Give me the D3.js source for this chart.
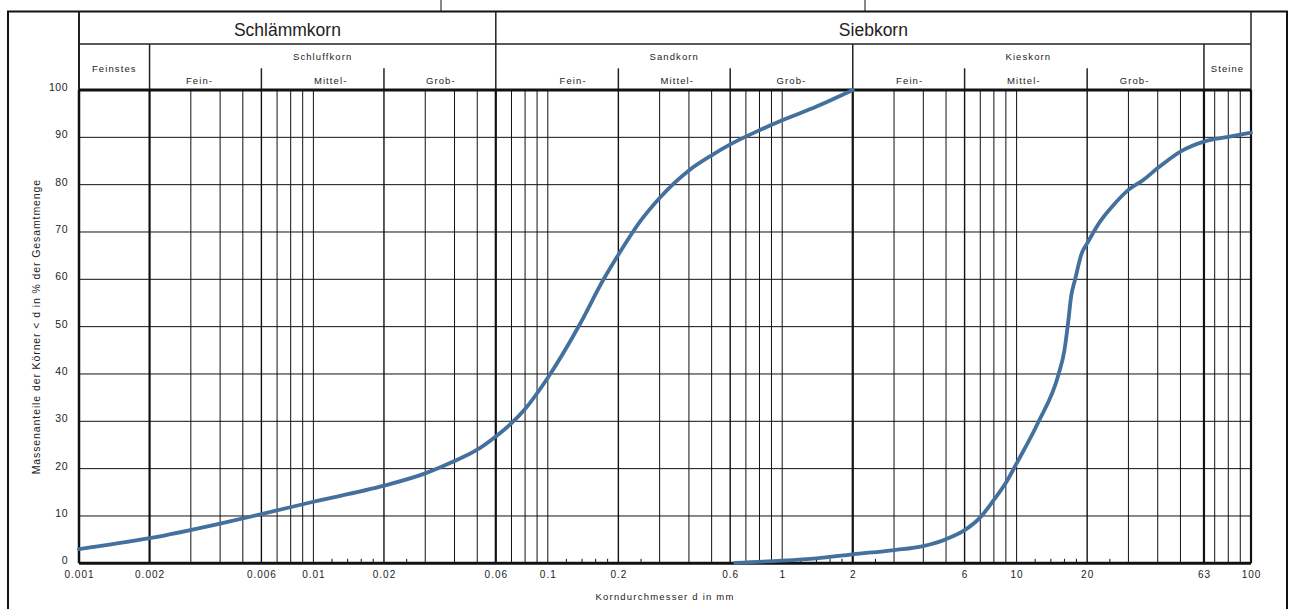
<!DOCTYPE html>
<html>
<head>
<meta charset="utf-8">
<script src="https://cdn.jsdelivr.net/npm/d3@7"></script>
<style>
  body { margin: 0; background: #fff; }
  svg { display: block; }
  text { font-family: "Liberation Sans", Arial, sans-serif; fill: #222; }
</style>
</head>
<body>
<svg id="chart" width="1293" height="609"></svg>
<script>
// Körnungslinien: two grain size distribution curves (mass passing in % vs. grain diameter in mm)
const fineD   = [0.001, 0.002, 0.004, 0.006, 0.01, 0.02, 0.03, 0.04, 0.05, 0.06, 0.07, 0.08, 0.1,  0.137, 0.1725, 0.2,  0.25, 0.3,  0.4,  0.5,  0.6,  0.8,  1.0,  1.4,  2.0];
const finePct = [3.0,   5.3,   8.4,   10.4,  13.0, 16.4, 19.0, 21.6, 24.0, 26.8, 29.6, 32.6, 39.2, 50.5,  59.9,   65.2, 72.5, 77.2, 83.0, 86.2, 88.5, 91.5, 93.6, 96.5, 100];

const coarseD   = [0.63, 1.0,  1.4,  2.0, 3.0, 4.0,  5.0, 6.0, 7.0, 8.0,  9.0,  10,   12.4, 15.07, 16.0, 16.6, 17.1, 17.75, 18.96, 20,   22.7, 25.9, 30,   34.7, 40,   50,   63,   80,   100];
const coarsePct = [0.1,  0.55, 1.05, 1.9, 2.8, 3.65, 5.1, 7.0, 9.7, 13.4, 17.0, 21.1, 29.9, 39.8,  45.0, 51.0, 56.5, 59.9,  65.5,  67.6, 72.2, 75.7, 78.9, 81.0, 83.5, 87.0, 89.1, 90.1, 91.0];

// Axis ticks
const yTicks = [0, 10, 20, 30, 40, 50, 60, 70, 80, 90, 100];
const xLabelValues = [0.001, 0.002, 0.006, 0.01, 0.02, 0.06, 0.1, 0.2, 0.6, 1, 2, 6, 10, 20, 63, 100];
const xLabelTexts  = ["0.001", "0.002", "0.006", "0.01", "0.02", "0.06", "0.1", "0.2", "0.6", "1", "2", "6", "10", "20", "63", "100"];

// Grid in the log scale
const minorLines = [0.003, 0.004, 0.005, 0.007, 0.008, 0.009, 0.01,
                    0.03, 0.04, 0.05, 0.07, 0.08, 0.09, 0.1,
                    0.3, 0.4, 0.5, 0.7, 0.8, 0.9, 1,
                    3, 4, 5, 7, 8, 9, 10,
                    30, 40, 50, 70, 80, 90];
const shortTicks = [0.012, 0.014, 0.016, 0.018, 0.025,
                    0.12, 0.14, 0.16, 0.18, 0.25,
                    1.2, 1.4, 1.6, 1.8, 2.5,
                    12, 14, 16, 18, 25];
const mainBounds = [0.002, 0.06, 2, 63];
const subBounds  = [0.006, 0.02, 0.2, 0.6, 6, 20];

// Header classification (DIN 4022)
const groupNames = ["Schlämmkorn", "Siebkorn"];
const groupFrom  = [0.001, 0.06];
const groupTo    = [0.06, 100];

const fractionNames = ["Schluffkorn", "Sandkorn", "Kieskorn"];
const fractionFrom  = [0.002, 0.06, 2];
const fractionTo    = [0.06, 2, 63];

const sideCellNames = ["Feinstes", "Steine"];
const sideCellFrom  = [0.001, 63];
const sideCellTo    = [0.002, 100];

const subNames = ["Fein-", "Mittel-", "Grob-", "Fein-", "Mittel-", "Grob-", "Fein-", "Mittel-", "Grob-"];
const subFrom  = [0.002, 0.006, 0.02, 0.06, 0.2, 0.6, 2, 6, 20];
const subTo    = [0.006, 0.02, 0.06, 0.2, 0.6, 2, 6, 20, 63];
// horizontal nudges of the sub-fraction captions (px)
const subShift = [-6, 8, 1, 16, 3, 0, 1, -2, -11];

const svg = d3.select("#chart");

const plotL = 79, plotR = 1251, plotT = 90, plotB = 563.3;
const x = d3.scaleLog().domain([0.001, 100]).range([plotL, plotR]);
const y = d3.scaleLinear().domain([0, 100]).range([plotB, plotT]);

// page frame
const frame = svg.append("g").attr("fill", "none").attr("stroke", "#111");
frame.append("path").attr("d", "M8,620 L8,11.5 L1287,11.5 L1287,620").attr("stroke-width", 2);
frame.append("line").attr("x1", 441).attr("x2", 441).attr("y1", 0).attr("y2", 11).attr("stroke-width", 1);
frame.append("line").attr("x1", 865).attr("x2", 865).attr("y1", 0).attr("y2", 11).attr("stroke-width", 1);

// header table
const hdr = svg.append("g").attr("stroke", "#222").attr("fill", "none");
const hTop = 12, hMid = 44, hSub = 68.3;
hdr.append("line").attr("x1", plotL).attr("x2", plotR).attr("y1", hMid).attr("y2", hMid).attr("stroke-width", 1.5);
hdr.append("line").attr("x1", plotL).attr("x2", plotL).attr("y1", hTop).attr("y2", plotT).attr("stroke-width", 2);
hdr.append("line").attr("x1", plotR).attr("x2", plotR).attr("y1", hTop).attr("y2", plotT).attr("stroke-width", 1.5);
hdr.append("line").attr("x1", x(0.06)).attr("x2", x(0.06)).attr("y1", hTop).attr("y2", plotT).attr("stroke-width", 1.5);
hdr.selectAll("line.mb").data(mainBounds.filter(d => d !== 0.06)).join("line")
  .attr("x1", d => x(d)).attr("x2", d => x(d)).attr("y1", hMid).attr("y2", plotT).attr("stroke-width", 1.5);
hdr.selectAll("line.sb").data(subBounds).join("line")
  .attr("x1", d => x(d)).attr("x2", d => x(d)).attr("y1", hSub).attr("y2", plotT).attr("stroke-width", 1.5);

function styleSmall(sel) {
  sel.attr("font-size", "9.5px").attr("letter-spacing", "1.1px").attr("text-anchor", "middle");
}

svg.selectAll("text.group").data(groupNames).join("text")
  .attr("x", (d, i) => (x(groupFrom[i]) + x(groupTo[i])) / 2)
  .attr("y", 36)
  .attr("text-anchor", "middle").attr("font-size", "17.5px")
  .text(d => d);

svg.selectAll("text.fraction").data(fractionNames).join("text")
  .attr("x", (d, i) => (x(fractionFrom[i]) + x(fractionTo[i])) / 2)
  .attr("y", 60)
  .call(styleSmall)
  .text(d => d);

svg.selectAll("text.side").data(sideCellNames).join("text")
  .attr("x", (d, i) => (x(sideCellFrom[i]) + x(sideCellTo[i])) / 2)
  .attr("y", 72)
  .call(styleSmall)
  .text(d => d);

svg.selectAll("text.sub").data(subNames).join("text")
  .attr("x", (d, i) => (x(subFrom[i]) + x(subTo[i])) / 2 + subShift[i])
  .attr("y", 84)
  .call(styleSmall)
  .text(d => d);

// plot grid
const grid = svg.append("g").attr("stroke", "#111").attr("fill", "none");
grid.selectAll("line.h").data(yTicks.filter(d => d > 0 && d < 100)).join("line")
  .attr("x1", plotL).attr("x2", plotR).attr("y1", d => y(d)).attr("y2", d => y(d)).attr("stroke-width", 1);
grid.selectAll("line.minor").data(minorLines).join("line")
  .attr("x1", d => x(d)).attr("x2", d => x(d)).attr("y1", plotT).attr("y2", plotB).attr("stroke-width", 1);
grid.selectAll("line.sub").data(subBounds).join("line")
  .attr("x1", d => x(d)).attr("x2", d => x(d)).attr("y1", plotT).attr("y2", plotB).attr("stroke-width", 1.4);
grid.selectAll("line.main").data(mainBounds).join("line")
  .attr("x1", d => x(d)).attr("x2", d => x(d)).attr("y1", plotT).attr("y2", plotB).attr("stroke-width", 2.2);
grid.selectAll("line.tick").data(shortTicks).join("line")
  .attr("x1", d => x(d)).attr("x2", d => x(d)).attr("y1", plotB - 4.5).attr("y2", plotB).attr("stroke-width", 1);

// plot border
grid.append("line").attr("x1", plotL).attr("x2", plotR).attr("y1", plotT).attr("y2", plotT).attr("stroke-width", 3);
grid.append("line").attr("x1", plotL).attr("x2", plotR).attr("y1", plotB).attr("y2", plotB).attr("stroke-width", 3);
grid.append("line").attr("x1", plotL).attr("x2", plotL).attr("y1", plotT).attr("y2", plotB).attr("stroke-width", 2.5);
grid.append("line").attr("x1", plotR).attr("x2", plotR).attr("y1", plotT).attr("y2", plotB).attr("stroke-width", 2.2);

// axes labels
const yAxis = svg.append("g").attr("transform", `translate(${plotL},0)`)
  .call(d3.axisLeft(y).tickValues(yTicks).tickSize(0).tickPadding(11));
yAxis.select(".domain").remove();
yAxis.selectAll("text").attr("dy", "0.05em").attr("font-size", "10.5px").attr("letter-spacing", "0.5px")
  .style("fill", "#222");
yAxis.attr("font-family", null).attr("font-size", null);

const xAxis = svg.append("g").attr("transform", `translate(0,${plotB})`)
  .call(d3.axisBottom(x).tickValues(xLabelValues).tickSize(0).tickPadding(8)
    .tickFormat((d, i) => xLabelTexts[i]));
xAxis.select(".domain").remove();
xAxis.selectAll("text").attr("font-size", "10px").attr("letter-spacing", "1px")
  .style("fill", "#222");
xAxis.attr("font-family", null).attr("font-size", null);

svg.append("text")
  .attr("x", (plotL + plotR) / 2).attr("y", 600)
  .attr("text-anchor", "middle").attr("font-size", "9.5px").attr("letter-spacing", "1.2px")
  .text("Korndurchmesser d in mm");

svg.append("text")
  .attr("transform", `translate(40,${(plotT + plotB) / 2}) rotate(-90)`)
  .attr("text-anchor", "middle").attr("font-size", "10.5px").attr("letter-spacing", "0.9px")
  .text("Massenanteile der Körner < d in % der Gesamtmenge");

// curves
const line = d3.line().x(d => x(d[0])).y(d => y(d[1])).curve(d3.curveMonotoneX);
const curveColor = "#44709d";
svg.append("path").datum(fineD.map((d, i) => [d, finePct[i]]))
  .attr("d", line).attr("fill", "none").attr("stroke", curveColor).attr("stroke-width", 3.8).attr("stroke-linecap", "round");
svg.append("path").datum(coarseD.map((d, i) => [d, coarsePct[i]]))
  .attr("d", line).attr("fill", "none").attr("stroke", curveColor).attr("stroke-width", 3.8).attr("stroke-linecap", "round");
</script>
</body>
</html>
